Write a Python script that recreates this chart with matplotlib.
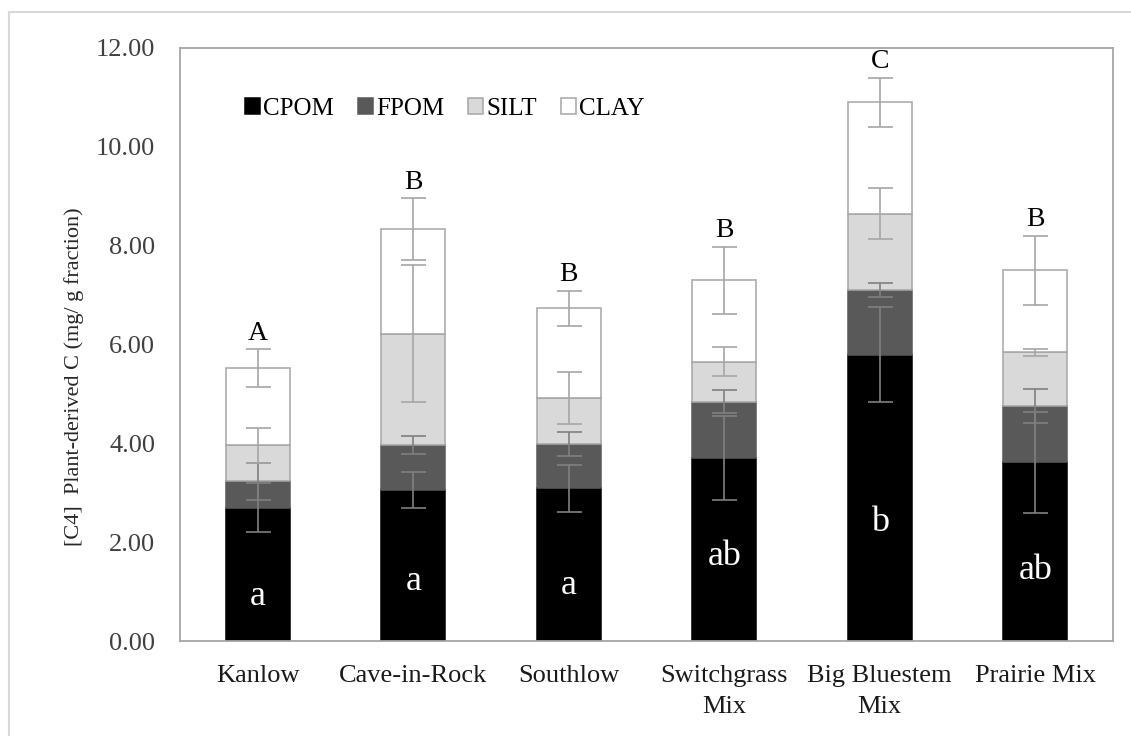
import numpy as np
import matplotlib
matplotlib.use("Agg")
from matplotlib import pyplot as plt
from matplotlib.lines import Line2D

plt.rcParams['font.family'] = ['Liberation Serif', 'DejaVu Serif']

# fraction means (mg C / g fraction) and standard errors
grasses = ['Kanlow', 'Cave-in-Rock', 'Southlow', 'Switchgrass\nMix', 'Big Bluestem\nMix', 'Prairie Mix']
cpom = [2.70, 3.05, 3.09, 3.70, 5.79, 3.62]
fpom = [0.53, 0.91, 0.90, 1.14, 1.31, 1.14]
silt = [0.73, 2.26, 0.93, 0.81, 1.55, 1.08]
clay = [1.56, 2.11, 1.81, 1.65, 2.25, 1.66]
cpom_se = [0.50, 0.36, 0.47, 0.85, 0.96, 1.02]
fpom_se = [0.37, 0.18, 0.24, 0.23, 0.14, 0.34]
silt_se = [0.35, 1.39, 0.52, 0.29, 0.51, 0.07]
clay_se = [0.38, 0.63, 0.36, 0.68, 0.50, 0.70]

# significance letters: total (upper case) and CPOM (lower case)
total_letters = ['A', 'B', 'B', 'B', 'C', 'B']
cpom_letters = ['a', 'a', 'a', 'ab', 'b', 'ab']
cpom_letter_y = [0.91, 1.20, 1.13, 1.70, 2.40, 1.43]

x = np.arange(len(grasses))
w = 0.41

fig = plt.figure(figsize=(11.31, 7.36), dpi=100)
ax = fig.add_axes([180/1131, 95/736, 933/1131, 593/736])

layers = [
    ('CPOM', cpom, cpom_se, 'black', 'black', '#808080'),
    ('FPOM', fpom, fpom_se, '#595959', '#595959', '#808080'),
    ('SILT', silt, silt_se, '#d9d9d9', '#a6a6a6', '#a6a6a6'),
    ('CLAY', clay, clay_se, 'white', '#a6a6a6', '#a6a6a6'),
]

bottom = np.zeros(len(grasses))
for name, vals, se, fc, ec, errc in layers:
    ax.bar(x, vals, w, bottom=bottom, color=fc, edgecolor=ec, linewidth=1.1,
           label=name, zorder=2)
    bottom = bottom + np.array(vals)
    ax.errorbar(x, bottom, yerr=se, fmt='none', ecolor=errc, elinewidth=1.2,
                capsize=9, capthick=1.2, zorder=3)

totals = bottom
for i in range(len(grasses)):
    ax.annotate(total_letters[i], (x[i], totals[i] + clay_se[i]),
                xytext=(0, 7), textcoords='offset points', ha='center',
                va='baseline', fontsize=20)
    ax.text(x[i], cpom_letter_y[i], cpom_letters[i], ha='center', va='center',
            fontsize=26, color='white', zorder=4)

ax.set_xlim(-0.5, len(grasses) - 0.5)
ax.set_ylim(0, 12)
ax.set_yticks(np.arange(0, 13, 2))
ax.set_yticklabels(['%.2f' % v for v in np.arange(0, 13, 2)])
ax.set_xticks(x)
ax.set_xticklabels(grasses, linespacing=1.55)
ax.tick_params(axis='y', length=0, pad=18, labelsize=19, labelcolor='#404040')
ax.tick_params(axis='x', length=0, pad=17, labelsize=19, labelcolor='#1a1a1a')
for s in ax.spines.values():
    s.set_color('#a6a6a6')
    s.set_linewidth(1.3)

ax.set_ylabel('[C4]  Plant-derived C (mg/ g fraction)', fontsize=16, color='#262626')
ax.yaxis.set_label_coords(-0.103, 0.445)

ax.legend(loc='upper left', bbox_to_anchor=(0.051, 0.945), ncol=4, frameon=False,
          fontsize=18, handlelength=0.6, handleheight=0.6, handletextpad=0.12,
          columnspacing=0.96, borderpad=0.2)

# light frame around the whole chart area
fig.add_artist(Line2D([9/1131, 9/1131], [0, 1 - 12/736], transform=fig.transFigure,
                      color='#d9d9d9', lw=1.5))
fig.add_artist(Line2D([9/1131, 1], [1 - 12/736, 1 - 12/736], transform=fig.transFigure,
                      color='#d9d9d9', lw=1.5))

plt.savefig('out.png', dpi=100)
